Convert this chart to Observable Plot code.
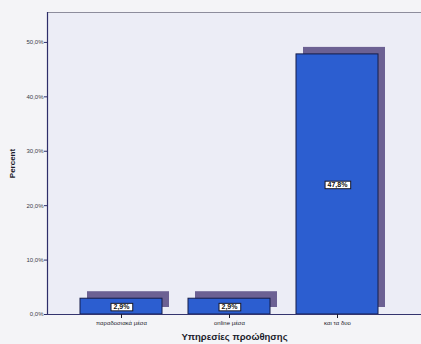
<!DOCTYPE html>
<html>
<head>
<meta charset="utf-8">
<script src="https://cdn.jsdelivr.net/npm/d3@7"></script>
<script src="https://cdn.jsdelivr.net/npm/@observablehq/plot@0.6"></script>
<style>
  html, body { margin: 0; padding: 0; background: #f4f4f7; overflow: hidden; }
  #chart svg { display: block; }
  #chart g[aria-label="x-axis label"] text { font-size: 9.5px; font-weight: bold; fill: #1c1c2c; }
  #chart g[aria-label="y-axis label"] text { font-size: 8px; font-weight: bold; fill: #1c1c2c; }
</style>
</head>
<body>
<div id="chart"></div>
<script>
// Share of respondents by promotion channel
const categories = ["παραδοσιακά μέσα", "online μέσα", "και τα δυο"];
const percents = [2.9, 2.9, 47.8];
const yTicks = [0, 10, 20, 30, 40, 50];

const data = categories.map((category, i) => ({category, percent: percents[i]}));

// Greek locale: comma as decimal separator
const fmt = v => d3.format(".1f")(v).replace(".", ",") + "%";

const chart = Plot.plot({
  width: 421,
  height: 344,
  marginLeft: 47,
  marginTop: 12,
  marginBottom: 30,
  marginRight: 0,
  style: {background: "#f4f4f7", fontFamily: "Arial, 'Liberation Sans', sans-serif", color: "#1c1c2c"},
  x: {domain: categories, range: [65.75, 391.25], paddingInner: 0.244, paddingOuter: 0.122},
  y: {domain: [0, 55.5]},
  marks: [
    // plot area background and outline
    Plot.frame({fill: "#ecedf6", stroke: null}),
    Plot.frame({anchor: "top", stroke: "#8d8d9c"}),
    Plot.frame({anchor: "left", stroke: "#2e2e6a", strokeWidth: 1.2}),
    // depth shadow behind each bar
    Plot.barY(data, {x: "category", y: "percent", fill: "#6c6193", dx: 7, dy: -7}),
    // main bars
    Plot.barY(data, {x: "category", y: "percent", fill: "#2c5ed0", stroke: "#151c48", strokeWidth: 1}),
    Plot.ruleY([0], {stroke: "#34346e", strokeWidth: 1.2}),
    Plot.axisY({
      ticks: yTicks, tickFormat: fmt, tickSize: 3, tickPadding: 1,
      fontSize: 6, stroke: "#2e2e6a", fill: "#3a3a48",
      label: "Percent", labelAnchor: "center", labelArrow: "none", labelOffset: 38
    }),
    Plot.axisX({
      tickSize: 4, tickPadding: 2, fontSize: 6, stroke: "#1c1c2c", fill: "#1c1c2c",
      label: "Υπηρεσίες προώθησης", labelAnchor: "center", labelArrow: "none", labelOffset: 25
    }),
    // value labels in the middle of each bar
    Plot.text(data, {
      x: "category", y: d => d.percent / 2, text: d => fmt(d.percent),
      fontSize: 7, fontWeight: "bold", fill: "#111"
    })
  ]
});

document.getElementById("chart").append(chart);

// white boxes behind the value labels
chart.querySelectorAll('g[aria-label="text"] text').forEach(t => {
  const b = t.getBBox();
  const r = document.createElementNS("http://www.w3.org/2000/svg", "rect");
  r.setAttribute("x", b.x - 2.5);
  r.setAttribute("y", b.y + 0.5);
  r.setAttribute("width", b.width + 5);
  r.setAttribute("height", b.height - 0.5);
  r.setAttribute("fill", "#ffffff");
  r.setAttribute("stroke", "#1a1a2a");
  r.setAttribute("stroke-width", 1);
  const tr = t.getAttribute("transform");
  if (tr) r.setAttribute("transform", tr);
  t.parentNode.insertBefore(r, t);
});
</script>
</body>
</html>
